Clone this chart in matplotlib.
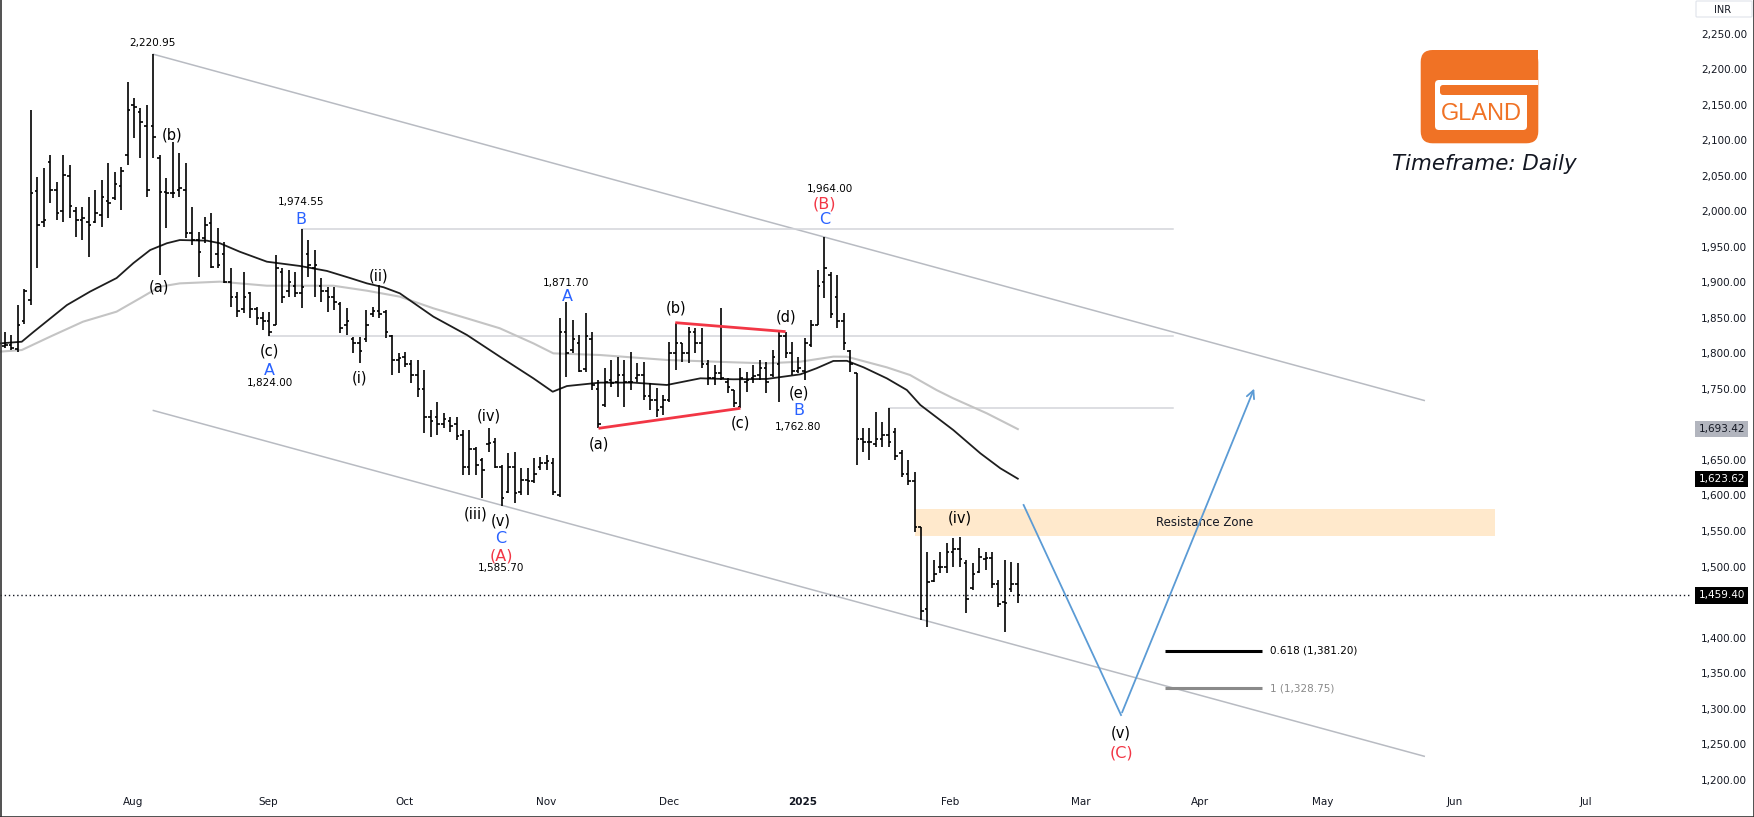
import matplotlib
matplotlib.use('Agg')
import matplotlib.pyplot as plt
import matplotlib.transforms as mtransforms
from matplotlib.patches import Rectangle, FancyBboxPatch
import numpy as np

# ---- daily OHLC (GLAND) ----
opens = [1810, 1812, 1806, 1845, 1875, 2029, 1985, 2069, 2030, 2000,
         2050, 2000, 1988, 1985, 1985, 1995, 2015, 2018, 2035, 2079,
         2150, 2140, 2120, 2120, 2075, 2027, 2025, 2030, 2030, 1970,
         1960, 1963, 1983, 1940, 1940, 1900, 1880, 1863, 1885, 1862,
         1850, 1845, 1840, 1915, 1888, 1895, 1885, 1940, 1920, 1895,
         1888, 1880, 1870, 1840, 1820, 1815, 1820, 1855, 1860, 1858,
         1825, 1790, 1795, 1785, 1770, 1750, 1710, 1710, 1700, 1705,
         1700, 1685, 1640, 1666, 1650, 1672, 1675, 1640, 1605, 1640,
         1605, 1622, 1620, 1640, 1645, 1645, 1600, 1830, 1805, 1815,
         1778, 1820, 1750, 1728, 1762, 1760, 1770, 1760, 1765, 1770,
         1740, 1735, 1725, 1735, 1800, 1814, 1800, 1830, 1815, 1785,
         1765, 1772, 1760, 1748, 1725, 1760, 1765, 1770, 1780, 1770,
         1785, 1825, 1800, 1775, 1775, 1812, 1840, 1900, 1910, 1880,
         1845, 1804, 1772, 1680, 1675, 1672, 1680, 1685, 1690, 1660,
         1630, 1620, 1556, 1440, 1480, 1500, 1500, 1520, 1525, 1505,
         1470, 1492, 1510, 1512, 1475, 1450, 1468, 1475]
highs = [1830.5, 1825.8, 1868.0, 1891.0, 2142.5, 2048.6, 2060.4, 2079.1, 2041.6, 2079.1,
         2065.1, 2006.4, 2006.4, 2020.5, 2029.9, 2044.0, 2067.4, 2055.7, 2062.7, 2182.3,
         2158.9, 2144.8, 2149.5, 2220.95, 2079.0, 2046.3, 2097.9, 2081.5, 2067.4, 2006.4,
         1971.2, 1992.3, 1998.0, 1975.9, 1957.2, 1919.6, 1886.8, 1915.0, 1886.8, 1865.7,
         1858.7, 1858.7, 1938.4, 1919.6, 1917.3, 1915.0, 1974.55, 1959.5, 1945.4, 1905.5,
         1893.8, 1893.8, 1872.7, 1863.4, 1823.5, 1823.5, 1861.0, 1865.7, 1896.2, 1861.0,
         1825.8, 1800.0, 1802.4, 1790.7, 1790.7, 1776.6, 1720.3, 1732.0, 1715.6, 1711.0,
         1711.0, 1692.2, 1692.2, 1668.7, 1652.3, 1694.5, 1680.4, 1643.0, 1659.3, 1661.7,
         1638.2, 1638.2, 1652.3, 1654.6, 1657.0, 1652.3, 1849.3, 1871.7, 1847.0, 1825.9,
         1856.4, 1830.6, 1762.5, 1779.0, 1790.7, 1795.4, 1790.7, 1802.4, 1786.0, 1788.3,
         1757.8, 1750.8, 1741.4, 1816.5, 1843.2, 1814.1, 1837.6, 1835.3, 1835.3, 1790.7,
         1783.7, 1863.4, 1764.9, 1748.5, 1779.0, 1774.3, 1783.7, 1790.7, 1788.3, 1804.8,
         1830.6, 1830.6, 1816.5, 1795.4, 1821.2, 1847.0, 1917.3, 1964.0, 1915.0, 1910.3,
         1856.4, 1804.8, 1772.0, 1694.5, 1694.5, 1717.9, 1703.8, 1722.6, 1694.5, 1664.0,
         1649.9, 1633.5, 1556.0, 1520.9, 1509.2, 1520.9, 1532.6, 1539.6, 1542.0, 1509.2,
         1504.5, 1525.6, 1520.9, 1520.9, 1481.0, 1509.2, 1506.8, 1504.5]
lows = [1807.0, 1804.7, 1802.4, 1841.0, 1868.0, 1919.6, 1978.3, 2011.1, 1987.7, 1985.3,
        1990.0, 1964.2, 1959.5, 1936.0, 1983.0, 1978.3, 1990.0, 2015.8, 2001.7, 2065.1,
        2102.6, 2074.4, 2020.5, 2074.4, 1910.0, 1975.9, 2018.1, 2020.5, 1961.9, 1952.5,
        1907.9, 1954.8, 1919.6, 1919.6, 1898.5, 1865.7, 1851.6, 1856.3, 1849.3, 1839.9,
        1832.8, 1824.0, 1839.9, 1870.4, 1879.8, 1879.8, 1863.4, 1907.9, 1879.8, 1872.7,
        1858.7, 1861.0, 1828.2, 1825.8, 1800.0, 1786.0, 1816.4, 1851.6, 1849.3, 1821.0,
        1769.5, 1772.0, 1781.3, 1757.8, 1739.0, 1687.5, 1682.8, 1685.1, 1694.5, 1689.8,
        1678.0, 1628.8, 1628.8, 1628.8, 1596.0, 1661.7, 1638.2, 1585.7, 1603.1, 1589.0,
        1600.7, 1600.7, 1617.1, 1635.9, 1635.9, 1600.7, 1598.4, 1767.2, 1800.0, 1774.3,
        1774.3, 1748.5, 1694.5, 1725.0, 1753.2, 1739.0, 1725.0, 1748.5, 1760.2, 1734.4,
        1720.3, 1711.0, 1713.3, 1732.0, 1776.6, 1788.3, 1786.0, 1800.0, 1779.0, 1755.5,
        1755.5, 1762.5, 1743.8, 1725.0, 1722.7, 1746.1, 1757.8, 1762.5, 1743.8, 1767.2,
        1732.0, 1793.0, 1769.6, 1772.0, 1762.5, 1809.4, 1840.0, 1877.5, 1849.3, 1835.3,
        1804.8, 1774.3, 1643.0, 1661.6, 1649.9, 1668.6, 1668.6, 1668.6, 1649.9, 1626.4,
        1614.7, 1549.0, 1424.7, 1415.3, 1478.7, 1490.4, 1490.4, 1499.8, 1499.8, 1434.1,
        1466.9, 1490.4, 1495.1, 1469.3, 1443.5, 1408.3, 1464.6, 1448.2]
closes = [1812, 1808, 1840, 1888, 2025, 1981, 1987, 2030, 1997, 2051,
          2008, 1988, 1990, 1980, 1997, 2020, 2011, 2039, 2056, 2142,
          2147, 2126, 2030, 2105, 2027, 2025, 2025, 2033, 1969, 1960,
          1943, 1980, 1921, 1925, 1900, 1880, 1860, 1880, 1862, 1850,
          1845, 1830, 1920, 1880, 1900, 1885, 1893, 1925, 1925, 1888,
          1880, 1872, 1835, 1845, 1815, 1803, 1840, 1860, 1855, 1830,
          1790, 1793, 1785, 1770, 1750, 1710, 1705, 1700, 1708, 1698,
          1683, 1640, 1666, 1643, 1636, 1674, 1640, 1596, 1640, 1604,
          1622, 1620, 1630, 1645, 1648, 1605, 1830, 1800, 1820, 1775,
          1825, 1755, 1700, 1760, 1758, 1770, 1760, 1760, 1770, 1740,
          1735, 1720, 1735, 1800, 1815, 1800, 1830, 1815, 1785, 1765,
          1772, 1765, 1752, 1730, 1765, 1762, 1768, 1780, 1760, 1795,
          1825, 1800, 1775, 1780, 1815, 1840, 1895, 1920, 1855, 1845,
          1815, 1785, 1680, 1675, 1675, 1680, 1685, 1675, 1655, 1630,
          1620, 1555, 1437, 1478, 1490, 1500, 1520, 1525, 1510, 1455,
          1490, 1513, 1512, 1475, 1447, 1448, 1475, 1459.4]

# moving averages (bar position, price)
ma_dark_x = [-0.8, 2.6, 4.4, 7.0, 9.6, 13.2, 17.3, 19.9, 22.5, 25.1, 27.1, 31.3, 33.3,
             36.4, 40.6, 45.7, 49.9, 53.5, 56.1, 58.7, 61.2, 66.4, 71.6, 76.7, 81.9,
             84.9, 87.1, 92.2, 97.4, 102.6, 107.8, 112.9, 118.1, 123.3, 125.8, 128.4,
             130.5, 133.1, 136.7, 139.8, 141.9, 147.0, 151.2, 154.3, 157.0]
ma_dark_y = [1814, 1816.4, 1830, 1849, 1868, 1887, 1906, 1927, 1945.4, 1955, 1959.5,
             1958.6, 1955, 1943, 1929, 1923, 1916, 1906, 1898.5, 1893, 1884.5, 1851.7,
             1825.9, 1795.4, 1764.9, 1746, 1754, 1758.8, 1758.8, 1755.5, 1764.9, 1763.5,
             1764, 1770.5, 1779, 1789.3, 1789.5, 1780.3, 1764.8, 1748.4, 1727.3, 1692.1,
             1659.3, 1638.2, 1623.62]
ma_light_x = [-0.8, 2.6, 7.0, 12.1, 17.3, 20.9, 24.0, 27.1, 33.3, 40.6, 50.9, 56.1,
              61.2, 66.4, 71.6, 76.7, 81.9, 85.0, 92.2, 102.6, 112.9, 118.1, 123.3,
              128.4, 130.5, 136.7, 140.3, 144.4, 147.0, 152.2, 157.0]
ma_light_y = [1802.4, 1804.7, 1823.5, 1844.6, 1858.7, 1877.4, 1893.8, 1898.5, 1900.9,
              1895.2, 1895.2, 1888.2, 1879.8, 1863.4, 1849.3, 1835.3, 1814.1, 1800,
              1797.7, 1790.7, 1787.4, 1786, 1788.3, 1795.4, 1795.3, 1780.3, 1769.5,
              1748.4, 1736.7, 1715.6, 1693.42]

month_pos = [19.8, 40.8, 61.9, 83.9, 103.0, 123.6, 146.5, 166.7, 185.3, 204.2, 224.8, 245.1]
month_lbl = ['Aug', 'Sep', 'Oct', 'Nov', 'Dec', '2025', 'Feb', 'Mar', 'Apr', 'May', 'Jun', 'Jul']
price_ticks = list(range(1200, 2251, 50))
hidden_ticks = [1450, 1700]   # sit under the price tags

# drawings
channel_upper = [(23, 2220.95), (220, 1733.7)]
channel_lower = [(23, 1719.6), (220, 1233.0)]
h_levels = [(46, 1974.55), (41, 1824.0), (137, 1722.6)]
h_end = 181
tri_upper = [(103.9, 1843.2), (121.0, 1830.6)]
tri_lower = [(92.0, 1694.5), (114.0, 1722.7)]
path_x = [157.9, 173.0, 193.8]
path_y = [1586.6, 1291.0, 1754.0]
zone = (141.0, 230.9, 1542.9, 1580.5)
fib_levels = [('0.618 (1,381.20)', 1381.20, '#000000'), ('1 (1,328.75)', 1328.75, '#8a8a8a')]
last_price = 1459.40

BLK, BLUE, RED = '#000000', '#2962FF', '#F23645'
wave_labels = [
    ('2,220.95', 22.9, 2237.2, BLK, 7.5), ('(b)', 25.9, 2107.3, BLK, 10.5),
    ('(a)', 23.9, 1893.8, BLK, 10.5), ('1,974.55', 45.9, 2012.6, BLK, 7.5),
    ('B', 45.9, 1987.7, BLUE, 11.5), ('(c)', 41.0, 1803.3, BLK, 10.5),
    ('A', 41.0, 1775.2, BLUE, 11.5), ('1,824.00', 41.0, 1758.7, BLK, 7.5),
    ('(ii)', 57.9, 1908.9, BLK, 10.5), ('(i)', 54.9, 1765.8, BLK, 10.5),
    ('(iv)', 75.0, 1711.9, BLK, 10.5), ('(iii)', 73.0, 1573.5, BLK, 10.5),
    ('(v)', 76.9, 1564.5, BLK, 10.5), ('C', 76.9, 1539.8, BLUE, 11.5),
    ('(A)', 76.9, 1515.3, RED, 11.5), ('1,585.70', 76.9, 1497.5, BLK, 7.5),
    ('1,871.70', 87.0, 1898.6, BLK, 7.5), ('A', 87.1, 1879.7, BLUE, 11.5),
    ('(a)', 92.1, 1672.0, BLK, 10.5), ('(b)', 104.0, 1863.4, BLK, 10.5),
    ('(c)', 114.0, 1701.6, BLK, 10.5), ('(d)', 121.0, 1851.6, BLK, 10.5),
    ('(e)', 123.0, 1743.8, BLK, 10.5), ('B', 123.0, 1718.9, BLUE, 11.5),
    ('1,762.80', 123.0, 1696.8, BLK, 7.5), ('1,964.00', 127.9, 2030.9, BLK, 7.5),
    ('(B)', 127.0, 2010.2, RED, 11.5), ('C', 127.0, 1987.7, BLUE, 11.5),
    ('(iv)', 148.0, 1568.7, BLK, 10.5), ('(v)', 173.0, 1266.2, BLK, 10.5),
    ('(C)', 173.0, 1238.0, RED, 11.5),
]

W, H = 1754, 817
fig = plt.figure(figsize=(W / 100, H / 100), dpi=100)
fig.patch.set_facecolor('white')
ax = fig.add_axes([0, 27 / H, 1690 / W, 790 / H])
ax.set_xlim(-0.775, 261.2)
ax.set_ylim(1185.5, 2297.3)
for s in ax.spines.values():
    s.set_visible(False)

# channel + horizontal levels
for ln in (channel_upper, channel_lower):
    ax.plot([p[0] for p in ln], [p[1] for p in ln], color='#b8bbc2', lw=1.1, zorder=1)
for x0, y0 in h_levels:
    ax.plot([x0, h_end], [y0, y0], color='#d3d5da', lw=1.1, zorder=1)

# resistance zone
zx0, zx1, zy0, zy1 = zone
ax.add_patch(Rectangle((zx0, zy0), zx1 - zx0, zy1 - zy0, facecolor='#FFE9CC', edgecolor='none', zorder=0.5))
ax.text((zx0 + zx1) / 2, (zy0 + zy1) / 2, 'Resistance Zone', ha='center', va='center', fontsize=8.5, color='#131722')

# moving averages
ax.plot(ma_light_x, ma_light_y, color='#c4c4c4', lw=1.5, zorder=2)
ax.plot(ma_dark_x, ma_dark_y, color='#1e1e1e', lw=1.3, zorder=2)

# OHLC bars
x = np.arange(len(opens))
ax.vlines(x, lows, highs, color='#000000', lw=1.2, zorder=3)
ax.hlines(opens, x - 0.4, x, color='#000000', lw=1.2, zorder=3)
ax.hlines(closes, x, x + 0.4, color='#000000', lw=1.2, zorder=3)

# contracting triangle
for ln in (tri_upper, tri_lower):
    ax.plot([p[0] for p in ln], [p[1] for p in ln], color=RED, lw=2, zorder=4, solid_capstyle='butt')

# projected path
ax.plot(path_x[:2], path_y[:2], color='#5b9bd5', lw=1.3, zorder=4)
ax.annotate('', xy=(path_x[2], path_y[2]), xytext=(path_x[1], path_y[1]),
            arrowprops=dict(arrowstyle='->', color='#5b9bd5', lw=1.3, mutation_scale=14), zorder=4)

# fib levels
for lbl, lv, col in fib_levels:
    ax.plot([179.8, 194.9], [lv, lv], color=col, lw=2.2, zorder=3, solid_capstyle='butt')
    ax.text(196.1, lv, lbl, ha='left', va='center', fontsize=7.5, color=col)

# last price line
ax.axhline(last_price, color='#131722', lw=1, ls=(0, (1, 2)), zorder=2)

for txt, bx, py, col, fs in wave_labels:
    ax.text(bx, py, txt, ha='center', va='center', fontsize=fs, color=col, zorder=5)

# axes
ax.set_xticks(month_pos)
ax.set_xticklabels(month_lbl)
for t in ax.get_xticklabels():
    if t.get_text() == '2025':
        t.set_fontweight('bold')
ax.tick_params(axis='x', length=0, pad=5, labelsize=7.5, labelcolor='#131722')
ax.yaxis.tick_right()
ax.set_yticks(price_ticks)
ax.set_yticklabels(['' if v in hidden_ticks else f'{v:,.2f}' for v in price_ticks])
ax.tick_params(axis='y', length=0, pad=8, labelsize=7.5, labelcolor='#131722')

trans = mtransforms.blended_transform_factory(ax.transAxes, ax.transData)
tags = [(1693.42, '#b2b5be', '#131722'), (1623.62, '#000000', 'white'), (last_price, '#000000', 'white')]
for val, bg, fg in tags:
    ax.text(1.0 + 8.5 / 1690, val, f'{val:,.2f}', transform=trans, ha='left', va='center',
            fontsize=7.5, color=fg, clip_on=False, zorder=6,
            bbox=dict(boxstyle='square,pad=0.3', fc=bg, ec='none'))

# overlay in pixel coordinates for logo / frame
ov = fig.add_axes([0, 0, 1, 1], zorder=10)
ov.set_xlim(0, W)
ov.set_ylim(H, 0)
ov.axis('off')
ov.patch.set_alpha(0)

orange = '#F07225'
ov.add_patch(FancyBboxPatch((1420.7 + 12, 50 + 12), 117.6 - 24, 93.3 - 24,
                            boxstyle='round,pad=12', fc=orange, ec='none'))
ov.add_patch(Rectangle((1500, 50), 38.3, 30, fc=orange, ec='none'))
ov.add_patch(FancyBboxPatch((1435 + 4, 80 + 4), 92 - 8, 50 - 8,
                            boxstyle='round,pad=4', fc='white', ec='none'))
ov.add_patch(Rectangle((1440, 80), 98.3, 5, fc='white', ec='none'))
ov.add_patch(FancyBboxPatch((1440 + 3, 85 + 3), 92 - 6, 10 - 6,
                            boxstyle='round,pad=3', fc=orange, ec='none'))
ov.text(1481, 114, 'GLAND', ha='center', va='center', fontsize=17, color=orange,
        family='Liberation Sans')
ov.text(1484, 164, 'Timeframe: Daily', ha='center', va='center', fontsize=15.4,
        style='italic', color='#131722')

ov.add_patch(FancyBboxPatch((1697, 2), 54, 14, boxstyle='round,pad=1', fc='white',
                            ec='#e0e3eb', lw=0.8))
ov.text(1723, 10, 'INR', ha='center', va='center', fontsize=7, color='#131722')

ov.plot([0.5, 0.5], [0, H], color='#333333', lw=1.2)
ov.plot([W - 0.5, W - 0.5], [0, H], color='#333333', lw=1.2)
ov.plot([0, W], [H - 0.5, H - 0.5], color='#333333', lw=1.2)

fig.savefig('out.png', dpi=100)
